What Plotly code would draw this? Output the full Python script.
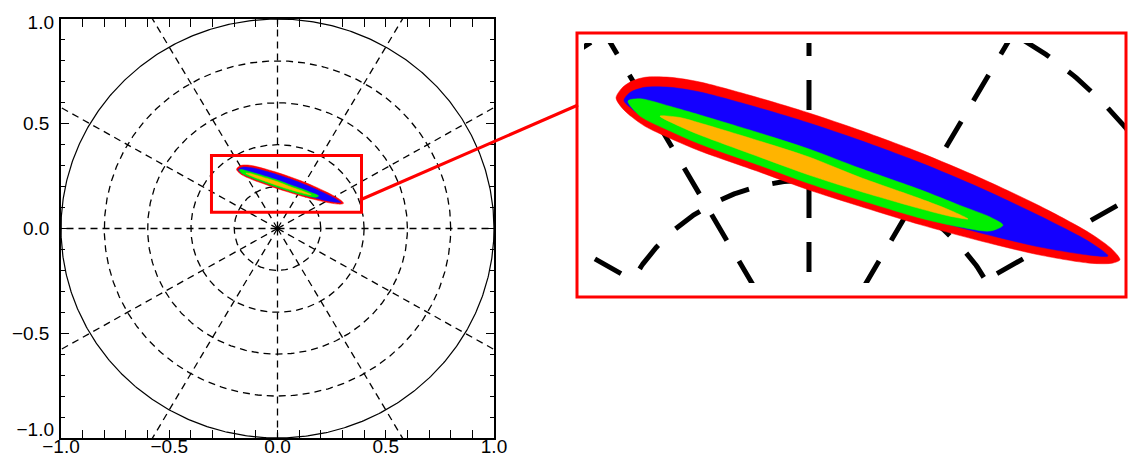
import numpy as np
import plotly.graph_objects as go

# ---- data ----
ring_radii = [0.2, 0.4, 0.6, 0.8]
outer_radius = 1.0
spoke_angles_deg = [0, 30, 60, 90, 120, 150, 180, 210, 240, 270, 300, 330]
tick_values = [-1.0, -0.5, 0.0, 0.5, 1.0]
tick_labels = ["−1.0", "−0.5", "0.0", "0.5", "1.0"]

# nested contour bands of the elongated distribution (outline points)
red_x = [-0.1892, -0.1833, -0.1735, -0.1608, -0.1363, -0.1069, -0.0480, 0.0000, 0.0500, 0.1088,
         0.1676, 0.2265, 0.2755, 0.2971, 0.3049, 0.2971, 0.2755, 0.2265, 0.1676, 0.1088,
         0.0500, 0.0000, -0.0480, -0.1069, -0.1363, -0.1608, -0.1735, -0.1833]
red_y = [0.2820, 0.2921, 0.2989, 0.3027, 0.3027, 0.2980, 0.2818, 0.2670, 0.2497, 0.2274,
         0.2022, 0.1739, 0.1468, 0.1308, 0.1202, 0.1168, 0.1168, 0.1249, 0.1392, 0.1554,
         0.1737, 0.1900, 0.2078, 0.2290, 0.2417, 0.2537, 0.2629, 0.2721]

blue_x = [-0.1814, -0.1755, -0.1608, -0.1363, -0.1069, -0.0480, 0.0000, 0.0500, 0.1088, 0.1676,
          0.2265, 0.2755, 0.2931, 0.2755, 0.2265, 0.1676, 0.1088, 0.0500, 0.0000, -0.0480,
          -0.1069, -0.1363, -0.1608, -0.1735]
blue_y = [0.2794, 0.2875, 0.2927, 0.2927, 0.2880, 0.2718, 0.2570, 0.2397, 0.2174, 0.1922,
          0.1639, 0.1378, 0.1241, 0.1248, 0.1329, 0.1472, 0.1634, 0.1817, 0.1980, 0.2158,
          0.2370, 0.2497, 0.2617, 0.2709]

green_x = [-0.1775, -0.1657, -0.1363, -0.1069, -0.0480, 0.0000, 0.0500, 0.1088, 0.1480, 0.1775,
           0.1902, 0.1775, 0.1480, 0.1088, 0.0500, 0.0000, -0.0480, -0.1069, -0.1363, -0.1657]
green_y = [0.2790, 0.2813, 0.2737, 0.2650, 0.2468, 0.2310, 0.2117, 0.1904, 0.1746, 0.1630,
           0.1548, 0.1490, 0.1530, 0.1620, 0.1800, 0.1965, 0.2145, 0.2360, 0.2490, 0.2640]

yellow_x = [-0.1461, -0.1265, -0.1069, -0.0480, 0.0000, 0.0500, 0.1088, 0.1382, 0.1559,
            0.1382, 0.1088, 0.0500, 0.0000, -0.0480, -0.1069, -0.1265]
yellow_y = [0.2639, 0.2625, 0.2570, 0.2388, 0.2230, 0.2027, 0.1814, 0.1698, 0.1610,
            0.1638, 0.1714, 0.1887, 0.2050, 0.2228, 0.2450, 0.2535]

band_colors = ["#ff0000", "#1400ff", "#00f000", "#ffb400"]

zoom_box_x = [-0.305, 0.388]
zoom_box_y = [0.078, 0.348]
inset_x_range = [-0.2206, 0.3118]
inset_y_range = [0.097, 0.337]

# ---- figure ----
W, H = 1128, 457
fig = go.Figure()

theta = np.linspace(0, 2 * np.pi, 721)


def add_grid(xa, ya, width, dash, circ_width):
    for r in ring_radii:
        fig.add_trace(go.Scatter(x=r * np.cos(theta), y=r * np.sin(theta), mode="lines",
                                 line=dict(color="black", width=width, dash=dash),
                                 xaxis=xa, yaxis=ya, hoverinfo="skip", showlegend=False))
    for a in spoke_angles_deg:
        ar = np.deg2rad(a)
        fig.add_trace(go.Scatter(x=[0, 1.6 * np.cos(ar)], y=[0, 1.6 * np.sin(ar)], mode="lines",
                                 line=dict(color="black", width=width, dash=dash),
                                 xaxis=xa, yaxis=ya, hoverinfo="skip", showlegend=False))
    fig.add_trace(go.Scatter(x=outer_radius * np.cos(theta), y=outer_radius * np.sin(theta),
                             mode="lines", line=dict(color="black", width=circ_width),
                             xaxis=xa, yaxis=ya, hoverinfo="skip", showlegend=False))


def add_bands(xa, ya):
    for bx, by, col in zip([red_x, blue_x, green_x, yellow_x],
                           [red_y, blue_y, green_y, yellow_y], band_colors):
        fig.add_trace(go.Scatter(x=bx + bx[:1], y=by + by[:1], mode="lines", fill="toself",
                                 fillcolor=col, line=dict(color=col, width=0.5, shape="spline", smoothing=0.8),
                                 xaxis=xa, yaxis=ya, hoverinfo="skip", showlegend=False))


add_grid("x", "y", 1.3, "7px,5px", 1.2)
add_bands("x", "y")
add_grid("x2", "y2", 5.0, "30px,24px", 5.0)
add_bands("x2", "y2")

# invisible anchors for the overlay axes that carry the end labels of the y axis
for ya in ["y3", "y4"]:
    fig.add_trace(go.Scatter(x=[0], y=[0], xaxis="x", yaxis=ya, mode="markers",
                             marker=dict(opacity=0), hoverinfo="skip", showlegend=False))

# main plot area in pixels
mx0, mx1, my0, my1 = 61, 494, 19, 438
font = dict(family="Liberation Sans, Arial, sans-serif", size=19, color="black")
minor = dict(dtick=0.1, tick0=0, ticks="inside", ticklen=4, tickcolor="black",
             tickwidth=1.1, showgrid=False)
axis_common = dict(range=[-1, 1], ticks="inside",
                   ticklen=8, tickwidth=1.2, tickcolor="black", showline=True, linecolor="black",
                   linewidth=1.5, mirror="allticks", showgrid=False, zeroline=False,
                   tickfont=font, automargin=False, minor=minor)
ydom = [1 - my1 / H, 1 - my0 / H]
end_axis = dict(range=[-1, 1], overlaying="y", anchor="x", side="left", domain=ydom,
                ticks="", showline=False, showgrid=False, zeroline=False, tickfont=font,
                automargin=False, ticklabelstandoff=6)

fig.update_layout(
    width=W, height=H, margin=dict(l=0, r=0, t=0, b=0),
    paper_bgcolor="white", plot_bgcolor="white",
    xaxis=dict(domain=[mx0 / W, mx1 / W], anchor="y", ticklabelstandoff=-10,
               tickvals=tick_values, ticktext=tick_labels, **axis_common),
    yaxis=dict(domain=ydom, anchor="x", ticklabelstandoff=6,
               tickvals=tick_values, ticktext=["", tick_labels[1], tick_labels[2], tick_labels[3], ""],
               **axis_common),
    yaxis3=dict(tickvals=[tick_values[4]], ticktext=[tick_labels[4]], ticklabelshift=3, **end_axis),
    yaxis4=dict(tickvals=[tick_values[0]], ticktext=[tick_labels[0]], ticklabelshift=-9, **end_axis),
    xaxis2=dict(domain=[584 / W, 1127 / W], anchor="y2", range=inset_x_range, visible=False,
                showgrid=False, zeroline=False),
    yaxis2=dict(domain=[1 - 283 / H, 1 - 43 / H], anchor="x2", range=inset_y_range, visible=False,
                showgrid=False, zeroline=False),
)

# zoom rectangle in the main plot
fig.add_shape(type="rect", xref="x", yref="y", x0=zoom_box_x[0], x1=zoom_box_x[1],
              y0=zoom_box_y[0], y1=zoom_box_y[1], line=dict(color="#ff0000", width=3))
# inset frame
fig.add_shape(type="rect", xref="paper", yref="paper", x0=577 / W, x1=1126 / W,
              y0=1 - 297 / H, y1=1 - 33 / H, line=dict(color="#ff0000", width=3))
# connector
fig.add_shape(type="line", xref="paper", yref="paper", x0=360 / W, y0=1 - 200 / H,
              x1=578 / W, y1=1 - 105 / H, line=dict(color="#ff0000", width=3))

fig.write_html("out.html", config={"displayModeBar": False},
               post_script="document.body.style.margin='0';document.body.style.overflow='hidden';")
